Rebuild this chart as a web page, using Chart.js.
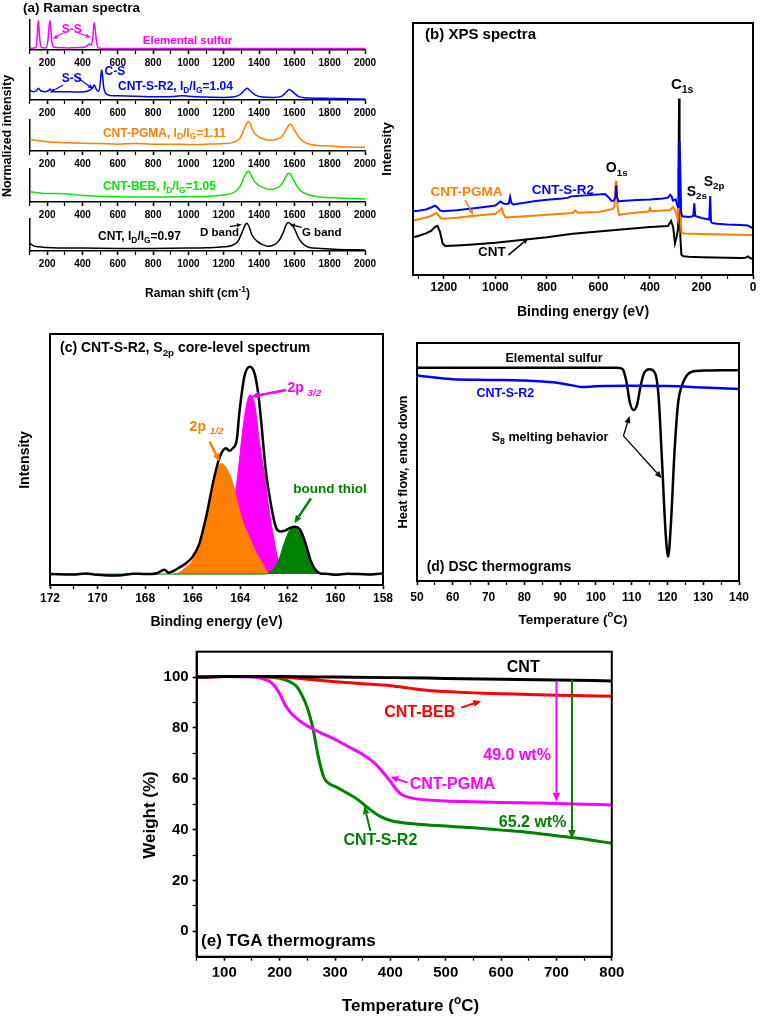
<!DOCTYPE html>
<html>
<head>
<meta charset="utf-8">
<script src="https://cdn.jsdelivr.net/npm/chart.js@4.4.1/dist/chart.umd.min.js"></script>
<style>
  html, body { margin: 0; padding: 0; background: #fff; }
  #fig { position: relative; width: 760px; height: 1018px; overflow: hidden; }
  #fig canvas { position: absolute; left: 0; top: 0; }
</style>
</head>
<body>
<div id="fig">
  <canvas id="ramanSulfur" width="760" height="1018"></canvas>
  <canvas id="ramanSR2" width="760" height="1018"></canvas>
  <canvas id="ramanPGMA" width="760" height="1018"></canvas>
  <canvas id="ramanBEB" width="760" height="1018"></canvas>
  <canvas id="ramanCNT" width="760" height="1018"></canvas>
  <canvas id="xps" width="760" height="1018"></canvas>
  <canvas id="s2p" width="760" height="1018"></canvas>
  <canvas id="dsc" width="760" height="1018"></canvas>
  <canvas id="tga" width="760" height="1018"></canvas>
</div>
<script>
const FONT = "'Liberation Sans', Arial, Helvetica, sans-serif";
const PAGE_W = 760, PAGE_H = 1018;

// ---- (a) Raman spectra ----
const ramanTicks = [100, 200, 300, 400, 500, 600, 700, 800, 900, 1000, 1100, 1200, 1300, 1400, 1500, 1600, 1700, 1800, 1900, 2000];
const ramanLabels = [200, 400, 600, 800, 1000, 1200, 1400, 1600, 1800, 2000];

const sulfurShift = [100, 120, 135, 143, 150, 157, 165, 180, 195, 205, 211, 216, 222, 230, 245, 270, 320, 380, 415, 430, 440, 450, 458, 463, 467, 472, 480, 492, 520, 600, 800, 1000, 1200, 1400, 1600, 1800, 2000];
const sulfurInt = [6, 6, 8, 40, 98, 45, 10, 7, 8, 35, 80, 98, 60, 15, 8, 8, 7, 8, 10, 16, 20, 17, 40, 75, 91, 70, 25, 7, 5, 5, 5, 5, 5, 5, 5, 5, 5];

const sr2Shift = [100, 120, 140, 150, 165, 190, 208, 216, 226, 250, 300, 350, 400, 430, 455, 467, 478, 492, 500, 505, 509, 514, 520, 530, 550, 600, 700, 800, 900, 960, 1000, 1050, 1100, 1200, 1260, 1295, 1320, 1333, 1350, 1380, 1420, 1480, 1530, 1555, 1571, 1590, 1620, 1680, 1800, 1900, 2000];
const sr2Int = [31, 26, 29, 37, 28, 26, 29, 34, 27, 26, 26, 25, 25, 28, 36, 47, 33, 27, 50, 80, 94, 75, 40, 22, 15, 13, 12, 10, 10, 13, 12, 10, 9, 8, 10, 18, 32, 37, 28, 15, 9, 8, 12, 25, 33, 26, 12, 6, 5, 4, 3];

const pgmaShift = [100, 150, 200, 300, 400, 500, 600, 700, 800, 900, 1000, 1100, 1200, 1250, 1290, 1315, 1330, 1340, 1352, 1370, 1400, 1430, 1460, 1500, 1530, 1555, 1570, 1580, 1595, 1610, 1625, 1650, 1700, 1800, 1900, 2000];
const pgmaInt = [38, 33, 30, 27, 25, 24, 22, 24, 22, 22, 21, 22, 24, 27, 40, 70, 90, 95, 85, 60, 45, 38, 35, 38, 47, 70, 85, 87, 72, 58, 45, 30, 20, 16, 13, 12];

const bebShift = [100, 200, 300, 400, 600, 800, 1000, 1100, 1200, 1250, 1290, 1315, 1330, 1340, 1352, 1370, 1400, 1430, 1460, 1500, 1530, 1550, 1565, 1575, 1590, 1610, 1640, 1680, 1750, 1850, 2000];
const bebInt = [31, 26, 25, 20, 16, 15, 16, 17, 21, 27, 45, 75, 90, 93, 85, 65, 50, 42, 38, 42, 55, 75, 87, 86, 72, 52, 32, 22, 15, 12, 9];

const cntShift = [100, 120, 150, 200, 300, 400, 600, 800, 1000, 1100, 1200, 1250, 1280, 1305, 1320, 1330, 1342, 1360, 1390, 1420, 1450, 1480, 1510, 1535, 1552, 1565, 1580, 1600, 1620, 1645, 1680, 1750, 1850, 2000];
const cntInt = [25, 17, 13, 11, 9, 9, 8, 8, 9, 10, 13, 18, 30, 60, 80, 87, 78, 50, 30, 20, 15, 18, 30, 55, 80, 89, 84, 70, 45, 24, 12, 8, 5, 3];

// ---- (b) XPS survey ----
const xpsTicks = [0, 100, 200, 300, 400, 500, 600, 700, 800, 900, 1000, 1100, 1200, 1300];
const xpsLabels = [0, 200, 400, 600, 800, 1000, 1200];

const xpsCntBE = [1320, 1300, 1270, 1250, 1235, 1225, 1215, 1205, 1195, 1150, 1100, 1000, 900, 800, 700, 600, 500, 400, 330, 318, 310, 303, 297, 291, 287, 285, 282, 278, 270, 250, 200, 150, 100, 50, 30, 20, 12, 5, 0];
const xpsCntI = [15, 15.5, 16.5, 17.5, 19, 19.5, 17, 12.5, 11.5, 11.7, 12, 12.8, 13.9, 15, 16.4, 17.3, 18.2, 19, 19.4, 21.5, 19, 12.6, 15, 18, 70, 50, 15, 8, 7.4, 7.2, 7, 6.9, 6.8, 6.7, 6.8, 7.4, 6.8, 6.5, 6];

const xpsPgmaBE = [1320, 1290, 1260, 1240, 1230, 1222, 1212, 1200, 1150, 1100, 1050, 1000, 985, 975, 968, 960, 900, 800, 700, 690, 680, 600, 545, 538, 533, 530, 526, 520, 500, 450, 405, 400, 395, 350, 322, 310, 300, 292, 288, 285, 282, 278, 270, 200, 100, 0];
const xpsPgmaI = [21.5, 22.3, 23, 24, 24.6, 23.8, 22.5, 22.3, 22.7, 23.3, 23.8, 24.3, 25.5, 26.5, 24, 22.8, 23.2, 23.9, 24.6, 25.6, 24.7, 25, 26.2, 27, 37, 37, 27, 23.8, 24.2, 24.8, 25.2, 26.5, 25.3, 25.6, 25.8, 27, 25, 22, 40, 45, 25, 17, 16.5, 16.3, 16.1, 15.9];

const xpsSr2BE = [1320, 1300, 1270, 1245, 1235, 1225, 1215, 1205, 1150, 1100, 1050, 1000, 981, 970, 955, 948, 943, 938, 930, 900, 850, 800, 750, 720, 705, 575, 560, 549, 540, 534, 531, 528, 522, 510, 450, 400, 350, 330, 322, 316, 311, 300, 295, 291, 288, 285, 282, 279, 275, 250, 238, 232, 228, 224, 218, 200, 180, 170, 166, 163, 158, 140, 100, 50, 20, 5, 0];
const xpsSr2I = [25.3, 25.5, 26, 27, 27.5, 26.8, 25.6, 25.3, 25.7, 26.3, 26.9, 27.6, 29.2, 28.4, 28.2, 28.4, 31, 28.6, 28, 28.5, 29.3, 29.9, 30.3, 30.6, 31.2, 32.1, 30.8, 29.4, 29.5, 31, 35.6, 31, 29.2, 29.4, 29.8, 30, 30.4, 30.7, 31.8, 31.2, 29.5, 30, 28, 27, 40, 53, 40, 25, 23.3, 23, 23.2, 23.4, 28.4, 23.5, 23.2, 22.6, 22.2, 22, 31.3, 21, 20.6, 20.3, 20, 19.8, 19.6, 18.8, 18.3];

// ---- (c) S2p core level ----
const s2pTicks = [158, 159, 160, 161, 162, 163, 164, 165, 166, 167, 168, 169, 170, 171, 172];
const s2pLabels = [158, 160, 162, 164, 166, 168, 170, 172];

const s2pRawBE = [172, 171, 170.5, 170, 169.5, 169, 168.5, 168, 167.5, 167.2, 167, 166.8, 166.56, 166.28, 166, 165.72, 165.44, 165.09, 164.85, 164.6, 164.45, 164.32, 164.15, 164.04, 163.83, 163.6, 163.4, 163.25, 163.14, 162.93, 162.72, 162.51, 162.3, 162.1, 161.9, 161.7, 161.5, 161.35, 161.2, 161.05, 160.9, 160.75, 160.6, 160.4, 160, 159.5, 159, 158.5, 158];
const s2pRawI = [0, -0.2, 0.3, -0.3, -0.6, -0.5, 0.2, 0, 0.4, 2, 0.6, 1.5, 3, 5, 8, 14, 26, 44.6, 54, 57.6, 56.5, 57.6, 61.4, 73.7, 90.4, 95, 92, 83, 72, 47.7, 32.4, 21.7, 19.5, 20, 21.2, 21.7, 20.5, 17, 12, 6.5, 3, 1, 0.2, 0.2, -0.3, 0.2, 0, -0.2, 0.4];

const p12BE = [166.8, 166.56, 166.3, 166.0, 165.65, 165.4, 165.16, 164.95, 164.81, 164.65, 164.46, 164.25, 164.11, 163.9, 163.62, 163.35, 163.07, 162.9, 162.75];
const p12I = [0, 0.7, 3, 6.5, 17, 28, 40, 48, 50.7, 49.5, 46, 39, 32.4, 24, 17, 10, 5, 1.5, 0];

const p32BE = [165.2, 164.9, 164.6, 164.35, 164.15, 164.04, 163.85, 163.6, 163.4, 163.2, 162.93, 162.8, 162.65, 162.44, 162.3, 162.15];
const p32I = [0, 2.8, 11, 27, 41.6, 52, 70, 82, 78, 61, 41.6, 30, 20, 8, 3, 0];

const thiolBE = [172, 163, 162.8, 162.6, 162.44, 162.3, 162.16, 162.0, 161.9, 161.74, 161.55, 161.32, 161.15, 161.04, 160.9, 160.83, 160.6, 158];
const thiolI = [0, 0, 0.5, 2.5, 5, 9, 14, 18.5, 20.5, 21.7, 20, 16.4, 10, 6.5, 3, 1.5, 0, 0];

// ---- (d) DSC ----
const dscTicks = [50, 55, 60, 65, 70, 75, 80, 85, 90, 95, 100, 105, 110, 115, 120, 125, 130, 135, 140];
const dscLabels = [50, 60, 70, 80, 90, 100, 110, 120, 130, 140];

const sulfurTemp = [50, 60, 70, 80, 90, 100, 106, 107.5, 108.5, 109.5, 110.5, 111.5, 112.5, 113.5, 115, 116.5, 117.5, 118.5, 119.5, 120.2, 121, 122, 123, 124, 125.5, 127, 130, 135, 140];
const sulfurFlow = [89.6, 89.6, 89.6, 89.6, 89.6, 89.6, 89.6, 89, 84, 75, 71.8, 74, 82, 87.5, 89, 87.5, 78, 50, 20, 10.2, 25, 55, 75, 82, 86.6, 88, 88.4, 88.6, 88.6];

const sr2Temp = [50, 55, 60, 70, 80, 85, 90, 93, 96, 100, 110, 120, 130, 140];
const sr2Flow = [86.3, 85.5, 84.8, 84.5, 84.2, 83.8, 83.1, 82.3, 81.5, 81.8, 82, 81.9, 81.3, 80.7];

// ---- (e) TGA ----
const tgaTempTicks = [50, 100, 150, 200, 250, 300, 350, 400, 450, 500, 550, 600, 650, 700, 750, 800];
const tgaTempLabels = [100, 200, 300, 400, 500, 600, 700, 800];
const tgaWeightTicks = [0, 10, 20, 30, 40, 50, 60, 70, 80, 90, 100];
const tgaWeightLabels = [0, 20, 40, 60, 80, 100];

const tgaCntT = [50, 100, 200, 300, 400, 500, 600, 700, 800];
const tgaCntW = [100, 100.2, 100.2, 100, 99.8, 99.5, 99.2, 98.9, 98.5];

const tgaBebT = [50, 100, 150, 200, 250, 300, 350, 400, 430, 460, 500, 550, 600, 650, 700, 750, 800];
const tgaBebW = [100, 100.2, 100.2, 100, 99.2, 98.2, 97.4, 96.6, 95.8, 94.9, 94.3, 93.8, 93.5, 93.2, 92.9, 92.7, 92.5];

const tgaPgmaT = [50, 100, 150, 170, 185, 200, 210, 220, 235, 250, 275, 300, 325, 350, 370, 385, 400, 410, 420, 435, 450, 500, 550, 600, 650, 700, 750, 800];
const tgaPgmaW = [100, 100.2, 100, 99.3, 97.8, 93.5, 89, 86, 83, 80.8, 78, 75.5, 72.5, 69.6, 66.5, 63, 59, 56, 53.8, 52.6, 52, 51.3, 51, 50.7, 50.5, 50.3, 50, 49.7];

const tgaSr2T = [50, 100, 150, 180, 200, 215, 230, 240, 250, 260, 270, 280, 290, 300, 320, 340, 360, 380, 400, 420, 450, 500, 550, 600, 650, 700, 750, 800];
const tgaSr2W = [100, 100.2, 100.2, 100, 99.5, 98.5, 96.5, 93, 88, 80, 68.5, 60.5, 58, 57, 54.6, 52, 48.5, 45.4, 43.6, 42.8, 42.1, 41.4, 40.7, 39.8, 38.9, 37.6, 36.3, 34.6];

const MAGENTA = '#ff00ff', BLUE = '#0000ff', ORANGE = '#ff8000', LIME = '#10e010', GREEN = '#008000', RED = '#ff0000';

function pts(xs, ys) {
    return xs.map((x, i) => ({ x: x, y: ys[i] }));
}

function line(data, color, width, smooth) {
    return {
        data: data,
        borderColor: color,
        borderWidth: width,
        pointRadius: 0,
        fill: false,
        tension: 0,
        cubicInterpolationMode: smooth ? 'monotone' : 'default'
    };
}

function area(data, color) {
    return {
        data: data,
        borderColor: color,
        backgroundColor: color,
        borderWidth: 1,
        pointRadius: 0,
        fill: 'origin',
        cubicInterpolationMode: 'monotone'
    };
}

// split "I_{D}" / "^{o}" / "_/{3/2}" (italic sub) into pieces
function parseRich(s) {
    const out = [];
    const re = /(_\/|_|\^)\{([^}]*)\}/g;
    let last = 0, m;
    while ((m = re.exec(s))) {
        if (m.index > last) out.push({ t: s.slice(last, m.index) });
        out.push({ t: m[2], sub: m[1] !== '^', sup: m[1] === '^', italic: m[1] === '_/' });
        last = re.lastIndex;
    }
    if (last < s.length) out.push({ t: s.slice(last) });
    return out;
}

function drawRich(ctx, str, x, y, o) {
    const size = o.size || 12;
    const weight = o.weight || 'bold';
    const parts = parseRich(str).map(p => {
        const s = (p.sub || p.sup) ? size * 0.7 : size;
        const font = (p.italic ? 'italic ' : '') + weight + ' ' + s + 'px ' + FONT;
        ctx.font = font;
        return { p: p, font: font, w: ctx.measureText(p.t).width };
    });
    const total = parts.reduce((a, g) => a + g.w, 0);
    ctx.save();
    ctx.translate(x, y);
    if (o.rot) ctx.rotate(-Math.PI / 2);
    ctx.fillStyle = o.color || '#000';
    ctx.textBaseline = 'middle';
    ctx.textAlign = 'left';
    let cx = o.align === 'left' ? 0 : o.align === 'right' ? -total : -total / 2;
    parts.forEach(g => {
        ctx.font = g.font;
        const dy = g.p.sub ? size * 0.32 : g.p.sup ? -size * 0.38 : 0;
        ctx.fillText(g.p.t, cx, dy);
        cx += g.w;
    });
    ctx.restore();
}

function drawArrow(ctx, x1, y1, x2, y2, color, width, head) {
    const ang = Math.atan2(y2 - y1, x2 - x1);
    const bx = x2 - head * Math.cos(ang), by = y2 - head * Math.sin(ang);
    ctx.save();
    ctx.strokeStyle = color;
    ctx.fillStyle = color;
    ctx.lineWidth = width;
    ctx.beginPath();
    ctx.moveTo(x1, y1);
    ctx.lineTo(bx, by);
    ctx.stroke();
    ctx.beginPath();
    ctx.moveTo(x2, y2);
    ctx.lineTo(bx + head * 0.42 * Math.sin(ang), by - head * 0.42 * Math.cos(ang));
    ctx.lineTo(bx - head * 0.42 * Math.sin(ang), by + head * 0.42 * Math.cos(ang));
    ctx.closePath();
    ctx.fill();
    ctx.restore();
}

// labels, arrows and frame drawn over each panel
function notes(items, frame) {
    return {
        id: 'notes',
        afterDraw(chart) {
            const ctx = chart.ctx;
            const sx = chart.scales.x, sy = chart.scales.y;
            const ca = chart.chartArea;
            if (frame) {
                ctx.save();
                ctx.strokeStyle = '#000';
                ctx.lineWidth = 2;
                ctx.strokeRect(ca.left, ca.top, ca.right - ca.left, ca.bottom - ca.top);
                ctx.restore();
            }
            (items || []).forEach(n => {
                const X = v => n.page ? v : sx.getPixelForValue(v);
                const Y = v => n.page ? v : sy.getPixelForValue(v);
                if (n.arrow) {
                    const a = n.arrow;
                    drawArrow(ctx, X(a[0]), Y(a[1]), X(a[2]), Y(a[3]), n.color || '#000', n.width || 1.5, n.head || 6);
                } else {
                    drawRich(ctx, n.text, X(n.x), Y(n.y), n);
                }
            });
        }
    };
}

function axis(spec, horizontal) {
    const hasTicks = !!spec.ticks;
    const labels = spec.labels || [];
    const a = {
        type: 'linear',
        position: horizontal ? 'bottom' : 'left',
        min: spec.min,
        max: spec.max,
        reverse: !!spec.reverse,
        afterFit: s => {
            if (horizontal) s.height = spec.fit; else s.width = spec.fit;
            s.paddingLeft = s.paddingRight = s.paddingTop = s.paddingBottom = 0;
        },
        border: { display: true, color: '#000', width: spec.border || 2 },
        grid: {
            display: hasTicks,
            drawOnChartArea: false,
            drawTicks: true,
            tickLength: spec.tickLength || 4,
            tickColor: '#000',
            tickWidth: c => (c.tick && labels.includes(c.tick.value)) ? 1.6 : 1.2
        },
        ticks: {
            display: labels.length > 0,
            autoSkip: false,
            maxRotation: 0,
            padding: spec.pad || 2,
            color: '#000',
            font: { family: FONT, size: spec.size || 12, weight: 'bold' },
            callback: v => labels.includes(v) ? String(v) : ''
        }
    };
    if (hasTicks) {
        a.afterBuildTicks = s => { s.ticks = spec.ticks.map(v => ({ value: v })); };
    }
    return a;
}

function panel(id, o) {
    const r = o.rect;
    return new Chart(document.getElementById(id), {
        type: 'line',
        data: { datasets: o.datasets },
        options: {
            responsive: false,
            animation: false,
            events: [],
            layout: {
                padding: { left: r.l - o.y.fit, top: r.t, right: PAGE_W - r.r, bottom: PAGE_H - r.b - o.x.fit }
            },
            plugins: { legend: { display: false }, tooltip: { enabled: false } },
            scales: { x: axis(o.x, true), y: axis(o.y, false) }
        },
        plugins: [notes(o.notes, o.frame)]
    });
}

// ---------- (a) Raman strips ----------
function ramanX() {
    return { min: 100, max: 2000, ticks: ramanTicks, labels: ramanLabels, size: 10, pad: 3, fit: 20, border: 1.5 };
}
const ramanY = { min: 0, max: 100, fit: 4, border: 1.5 };

panel('ramanSulfur', {
    rect: { l: 29.5, r: 365, t: 20, b: 50 },
    x: ramanX(), y: ramanY,
    datasets: [line(pts(sulfurShift, sulfurInt), MAGENTA, 1.5, true)],
    notes: [
        { page: true, text: '(a) Raman spectra', x: 23, y: 8.5, align: 'left', size: 13.5 },
        { text: 'S-S', x: 339, y: 69, color: MAGENTA, size: 12 },
        { arrow: [290, 57, 233, 37], color: MAGENTA, width: 1.2, head: 5 },
        { arrow: [375, 57, 447, 42], color: MAGENTA, width: 1.2, head: 5 },
        { text: 'Elemental sulfur', x: 995, y: 31, color: MAGENTA, size: 11.5 }
    ]
});

panel('ramanSR2', {
    rect: { l: 29.5, r: 365, t: 68, b: 100 },
    x: ramanX(), y: ramanY,
    datasets: [line(pts(sr2Shift, sr2Int), BLUE, 1.5, true)],
    notes: [
        { text: 'S-S', x: 339, y: 68, color: BLUE, size: 12 },
        { arrow: [290, 47, 216, 23], color: BLUE, width: 1.2, head: 5 },
        { arrow: [352, 77, 461, 35], color: BLUE, width: 1.2, head: 5 },
        { text: 'C-S', x: 525, y: 88, color: BLUE, size: 12, align: 'left' },
        { text: 'CNT-S-R2, I_{D}/I_{G}=1.04', x: 601, y: 41.5, color: BLUE, size: 12, align: 'left' }
    ]
});

panel('ramanPGMA', {
    rect: { l: 29.5, r: 365, t: 120, b: 151 },
    x: ramanX(), y: ramanY,
    datasets: [line(pts(pgmaShift, pgmaInt), ORANGE, 1.5, true)],
    notes: [
        { text: 'CNT-PGMA, I_{D}/I_{G}=1.11', x: 516, y: 57, color: ORANGE, size: 12, align: 'left' },
        { page: true, text: 'Normalized intensity', x: 8, y: 136, rot: true, size: 12.5 }
    ]
});

panel('ramanBEB', {
    rect: { l: 29.5, r: 365, t: 169, b: 202 },
    x: ramanX(), y: ramanY,
    datasets: [line(pts(bebShift, bebInt), LIME, 1.5, true)],
    notes: [
        { text: 'CNT-BEB, I_{D}/I_{G}=1.05', x: 516, y: 46, color: LIME, size: 12, align: 'left' }
    ]
});

panel('ramanCNT', {
    rect: { l: 29.5, r: 365, t: 219, b: 251 },
    x: ramanX(), y: ramanY,
    datasets: [line(pts(cntShift, cntInt), '#000', 1.5, true)],
    notes: [
        { text: 'CNT, I_{D}/I_{G}=0.97', x: 488, y: 45, size: 12, align: 'left' },
        { text: 'D band', x: 1066, y: 57, size: 11.5, align: 'left' },
        { arrow: [1235, 76, 1302, 83], width: 1.2, head: 5 },
        { text: 'G band', x: 1643, y: 57, size: 11.5, align: 'left' },
        { arrow: [1641, 74, 1575, 83], width: 1.2, head: 5 },
        { page: true, text: 'Raman shift (cm^{-1})', x: 197.5, y: 294, size: 12 }
    ]
});

// ---------- (b) XPS ----------
panel('xps', {
    rect: { l: 413, r: 753, t: 23, b: 275 },
    frame: true,
    x: { min: 0, max: 1320, reverse: true, ticks: xpsTicks, labels: xpsLabels, size: 12, pad: 1, fit: 20 },
    y: { min: 0, max: 100, fit: 4 },
    datasets: [
        line(pts(xpsSr2BE, xpsSr2I), BLUE, 2, false),
        line(pts(xpsPgmaBE, xpsPgmaI), ORANGE, 2, false),
        line(pts(xpsCntBE, xpsCntI), '#000', 2, false)
    ],
    notes: [
        { text: '(b) XPS spectra', x: 1273, y: 95.2, size: 15, align: 'left' },
        { text: 'C_{1s}', x: 275, y: 75.4, size: 15 },
        { text: 'O_{1s}', x: 529, y: 42.3, size: 14 },
        { text: 'S_{2s}', x: 218, y: 33, size: 14 },
        { text: 'S_{2p}', x: 151, y: 37, size: 14 },
        { text: 'CNT-PGMA', x: 1112, y: 33, color: ORANGE, size: 13.5 },
        { arrow: [1118, 29.8, 1086, 23.8], color: ORANGE, width: 1.5, head: 6 },
        { text: 'CNT-S-R2', x: 738, y: 33.5, color: BLUE, size: 13.5 },
        { text: 'CNT', x: 1014, y: 9.2, size: 13.5 },
        { arrow: [950, 7.9, 872, 14.6], width: 1.5, head: 6 },
        { page: true, text: 'Intensity', x: 387, y: 149, rot: true, size: 13 },
        { page: true, text: 'Binding energy (eV)', x: 583, y: 311.7, size: 14 }
    ]
});

// ---------- (c) S2p core level ----------
panel('s2p', {
    rect: { l: 50, r: 383, t: 334, b: 585 },
    frame: true,
    x: { min: 158, max: 172, reverse: true, ticks: s2pTicks, labels: s2pLabels, size: 12, pad: 2, fit: 20 },
    y: { min: -5, max: 110, fit: 4 },
    datasets: [
        line(pts(s2pRawBE, s2pRawI), '#000', 2.5, true),
        area(pts(thiolBE, thiolI), GREEN),
        area(pts(p12BE, p12I), ORANGE),
        area(pts(p32BE, p32I), MAGENTA)
    ],
    notes: [
        { text: '(c) CNT-S-R2, S_{2p} core-level spectrum', x: 171.58, y: 103.4, size: 14, align: 'left' },
        { text: '2p _/{3/2}', x: 162.02, y: 85, color: MAGENTA, size: 14, align: 'left' },
        { arrow: [162.08, 84.3, 163.55, 81.3], color: MAGENTA, width: 2.5, head: 8 },
        { text: '2p _/{1/2}', x: 166.13, y: 67.5, color: ORANGE, size: 14, align: 'left' },
        { arrow: [165.29, 60.7, 164.87, 51.5], color: ORANGE, width: 2.5, head: 8 },
        { text: 'bound thiol', x: 160.23, y: 38.8, color: GREEN, size: 13.5 },
        { arrow: [161.03, 34.7, 161.73, 23.3], color: GREEN, width: 2.5, head: 8 },
        { page: true, text: 'Intensity', x: 25, y: 460, rot: true, size: 14 },
        { page: true, text: 'Binding energy (eV)', x: 216.5, y: 621.7, size: 14 }
    ]
});

// ---------- (d) DSC ----------
panel('dsc', {
    rect: { l: 417, r: 739, t: 343, b: 581 },
    frame: true,
    x: { min: 50, max: 140, ticks: dscTicks, labels: dscLabels, size: 12, pad: 5, fit: 20 },
    y: { min: 0, max: 100, fit: 4 },
    datasets: [
        line(pts(sr2Temp, sr2Flow), BLUE, 2.5, true),
        line(pts(sulfurTemp, sulfurFlow), '#000', 2.5, true)
    ],
    notes: [
        { text: 'Elemental sulfur', x: 88.3, y: 93.6, size: 12.5 },
        { text: 'CNT-S-R2', x: 74.7, y: 78.9, color: BLUE, size: 12.5 },
        { text: 'S_{8} melting behavior', x: 70.9, y: 60.4, size: 12.5, align: 'left' },
        { arrow: [107.7, 61, 109.4, 69.3], width: 1.3, head: 7 },
        { arrow: [107.7, 61, 118.4, 43.2], width: 1.3, head: 7 },
        { text: '(d) DSC thermograms', x: 52.7, y: 6, size: 14, align: 'left' },
        { page: true, text: 'Heat flow, endo down', x: 403, y: 462, rot: true, size: 13 },
        { page: true, text: 'Temperature (^{o}C)', x: 573, y: 620, size: 13.5 }
    ]
});

// ---------- (e) TGA ----------
panel('tga', {
    rect: { l: 196.6, r: 611.8, t: 651.7, b: 956.7 },
    frame: true,
    x: { min: 50, max: 800, ticks: tgaTempTicks, labels: tgaTempLabels, size: 15, pad: 3, fit: 20 },
    y: { min: -10, max: 110, ticks: tgaWeightTicks, labels: tgaWeightLabels, size: 15, pad: 4, fit: 40 },
    datasets: [
        line(pts(tgaCntT, tgaCntW), '#000', 3, true),
        line(pts(tgaBebT, tgaBebW), RED, 3, true),
        line(pts(tgaPgmaT, tgaPgmaW), MAGENTA, 3, true),
        line(pts(tgaSr2T, tgaSr2W), GREEN, 3, true)
    ],
    notes: [
        { text: 'CNT', x: 640, y: 103.7, size: 16 },
        { text: 'CNT-BEB', x: 453, y: 86, color: RED, size: 16 },
        { arrow: [528, 88, 564, 90.6], color: RED, width: 2, head: 8 },
        { text: 'CNT-PGMA', x: 435, y: 57.9, color: MAGENTA, size: 16, align: 'left' },
        { arrow: [431, 58.5, 400, 60.8], color: MAGENTA, width: 2, head: 8 },
        { text: '49.0 wt%', x: 690, y: 69, color: MAGENTA, size: 16, align: 'right' },
        { arrow: [700, 98.5, 700, 51], color: MAGENTA, width: 2, head: 9 },
        { arrow: [728, 99, 728, 36.3], color: GREEN, width: 2, head: 9 },
        { text: '65.2 wt%', x: 657, y: 42.8, color: GREEN, size: 16 },
        { text: 'CNT-S-R2', x: 382, y: 35.6, color: GREEN, size: 16 },
        { arrow: [364, 39.5, 353, 49.3], color: GREEN, width: 2, head: 8 },
        { text: '(e) TGA thermograms', x: 58, y: -4, size: 17, align: 'left' },
        { page: true, text: 'Weight (%)', x: 150, y: 815, rot: true, size: 17 },
        { page: true, text: 'Temperature (^{o}C)', x: 410.5, y: 1006.7, size: 17 }
    ]
});
</script>
</body>
</html>
